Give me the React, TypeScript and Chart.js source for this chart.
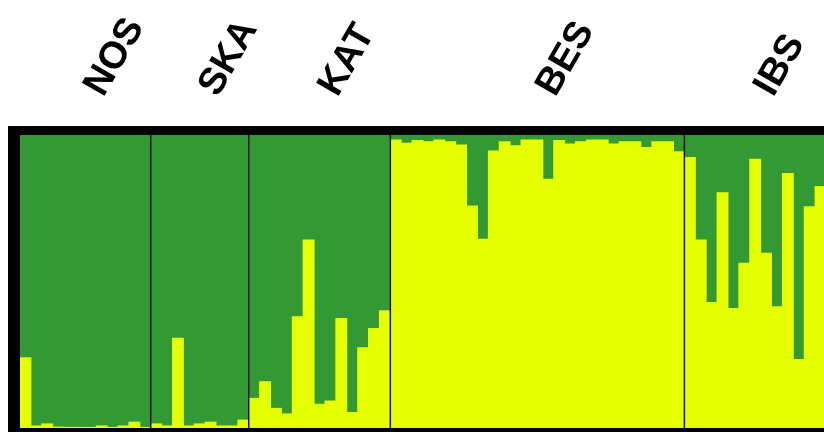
import React, { useEffect, useRef } from "react";
import { Chart, registerables } from "chart.js";

Chart.register(...registerables);

// Population groups (left to right)
const groupNames = ["NOS", "SKA", "KAT", "BES", "IBS"];

// Ancestry proportions per individual: cluster 1 (yellow, bottom) and cluster 2 (green, top)
const nosYellow = [0.24, 0.007, 0.014, 0.003, 0.002, 0.002, 0.002, 0.007, 0.002, 0.007, 0.02, 0.002];
const nosGreen = [0.76, 0.993, 0.986, 0.997, 0.998, 0.998, 0.998, 0.993, 0.998, 0.993, 0.98, 0.998];

const skaYellow = [0.014, 0.007, 0.306, 0.007, 0.014, 0.02, 0.007, 0.007, 0.027];
const skaGreen = [0.986, 0.993, 0.694, 0.993, 0.986, 0.98, 0.993, 0.993, 0.973];

const katYellow = [0.101, 0.158, 0.067, 0.048, 0.38, 0.642, 0.081, 0.092, 0.374, 0.053, 0.274, 0.34, 0.4];
const katGreen = [0.899, 0.842, 0.933, 0.952, 0.62, 0.358, 0.919, 0.908, 0.626, 0.947, 0.726, 0.66, 0.6];

const besYellow = [0.983, 0.972, 0.981, 0.977, 0.983, 0.977, 0.966, 0.758, 0.644, 0.945, 0.977, 0.963, 0.983, 0.983, 0.849, 0.981, 0.969, 0.977, 0.983, 0.983, 0.969, 0.977, 0.977, 0.957, 0.977, 0.977, 0.943];
const besGreen = [0.017, 0.028, 0.019, 0.023, 0.017, 0.023, 0.034, 0.242, 0.356, 0.055, 0.023, 0.037, 0.017, 0.017, 0.151, 0.019, 0.031, 0.023, 0.017, 0.017, 0.031, 0.023, 0.023, 0.043, 0.023, 0.023, 0.057];

const ibsYellow = [0.923, 0.642, 0.428, 0.803, 0.408, 0.562, 0.917, 0.596, 0.414, 0.869, 0.234, 0.755, 0.824];
const ibsGreen = [0.077, 0.358, 0.572, 0.197, 0.592, 0.438, 0.083, 0.404, 0.586, 0.131, 0.766, 0.245, 0.176];

const yellowGroups = [nosYellow, skaYellow, katYellow, besYellow, ibsYellow];
const greenGroups = [nosGreen, skaGreen, katGreen, besGreen, ibsGreen];

const YELLOW = "#e5ff00";
const GREEN = "#339933";

export default function App() {
  const canvasRef = useRef<HTMLCanvasElement | null>(null);

  useEffect(() => {
    if (!canvasRef.current) return;

    const labels: string[] = [];
    const groupRanges: { name: string; start: number; end: number }[] = [];
    yellowGroups.forEach((arr, gi) => {
      const start = labels.length;
      arr.forEach((_, i) => labels.push(`${groupNames[gi]} ${i + 1}`));
      groupRanges.push({ name: groupNames[gi], start, end: labels.length - 1 });
    });
    const yellow = ([] as number[]).concat(...yellowGroups);
    const green = ([] as number[]).concat(...greenGroups);

    const framePlugin = {
      id: "structureFrame",
      afterDatasetsDraw(chart: any) {
        const { ctx, chartArea: a, scales } = chart;
        const x = scales.x;
        ctx.save();
        // group separators
        ctx.strokeStyle = "#141414";
        ctx.lineWidth = 1.5;
        for (let g = 1; g < groupRanges.length; g++) {
          const b = groupRanges[g].start;
          const px = (x.getPixelForValue(b - 1) + x.getPixelForValue(b)) / 2;
          ctx.beginPath();
          ctx.moveTo(px, a.top);
          ctx.lineTo(px, a.bottom);
          ctx.stroke();
        }
        // thick frame
        ctx.fillStyle = "#000";
        ctx.fillRect(a.left - 12, a.top - 9, a.right - a.left + 24, 9);
        ctx.fillRect(a.left - 12, a.bottom, a.right - a.left + 24, 9);
        ctx.fillRect(a.left - 12, a.top - 9, 12, a.bottom - a.top + 18);
        ctx.fillRect(a.right, a.top - 9, 12, a.bottom - a.top + 18);
        // rotated group labels
        ctx.fillStyle = "#000";
        ctx.font = 'bold 38px "Liberation Sans", Arial, sans-serif';
        ctx.textAlign = "left";
        ctx.textBaseline = "alphabetic";
        groupRanges.forEach((g) => {
          const c = (x.getPixelForValue(g.start) + x.getPixelForValue(g.end)) / 2;
          ctx.save();
          ctx.translate(c + 18, a.top - 37);
          ctx.rotate(-Math.PI / 3);
          ctx.fillText(g.name, 0, 0);
          ctx.restore();
        });
        ctx.restore();
      },
    };

    const chart = new Chart(canvasRef.current, {
      type: "bar",
      data: {
        labels,
        datasets: [
          { label: "Cluster 1", data: yellow, backgroundColor: YELLOW, borderWidth: 0, inflateAmount: 0.5 },
          { label: "Cluster 2", data: green, backgroundColor: GREEN, borderWidth: 0, inflateAmount: 0.5 },
        ],
      },
      options: {
        responsive: false,
        animation: false,
        layout: { padding: { left: 20, top: 135, right: 14, bottom: 4 } },
        datasets: { bar: { categoryPercentage: 1, barPercentage: 1 } },
        scales: {
          x: { stacked: true, display: false },
          y: { stacked: true, display: false, min: 0, max: 1 },
        },
        plugins: { legend: { display: false }, tooltip: { enabled: false } },
      },
      plugins: [framePlugin],
    });
    return () => chart.destroy();
  }, []);

  return (
    <div style={{ position: "absolute", left: 0, top: 0, width: 824, height: 432, overflow: "hidden", background: "#fff" }}>
      <canvas ref={canvasRef} width={840} height={432} style={{ width: 840, height: 432, display: "block" }} />
    </div>
  );
}
